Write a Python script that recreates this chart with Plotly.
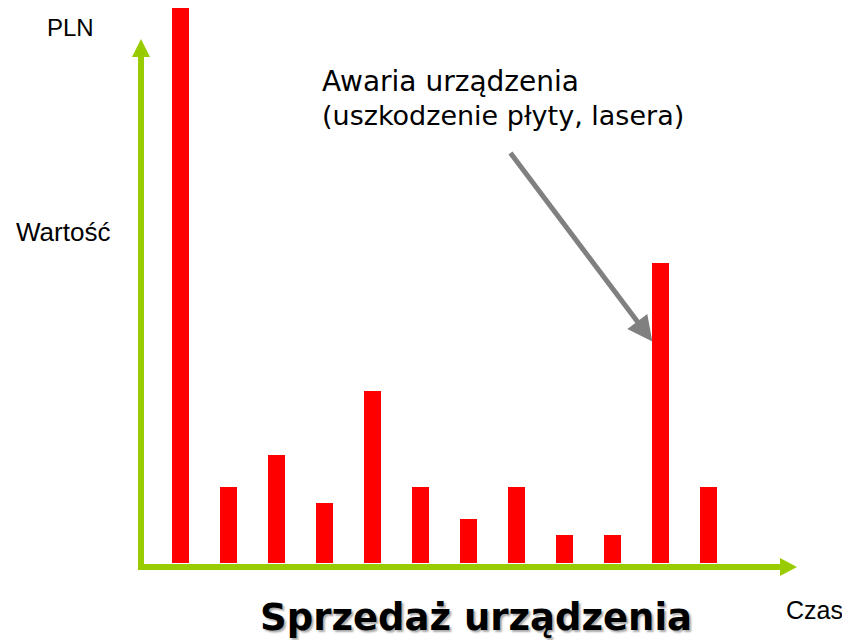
import plotly.graph_objects as go

# ---- data ----
periods = list(range(12))
values = [34.75, 4.75, 6.75, 3.75, 10.75, 4.75, 2.75, 4.75, 1.75, 1.75, 18.75, 4.75]
y_label = "Wartość"
unit_label = "PLN"
x_label = "Czas"
title_text = "Sprzedaż urządzenia"
note_line1 = "Awaria urządzenia"
note_line2 = "(uszkodzenie płyty, lasera)"
failure_index = 10

# page body has an 8px margin, so the figure starts at (8, 8)
OFF = 8
W, H = 850 - OFF, 640 - OFF
GREEN = "#99CC00"

def px(x):
    return (x - OFF) / W

def py(y):
    return 1 - (y - OFF) / H

fig = go.Figure()
fig.add_trace(go.Bar(x=periods, y=values, width=0.354,
                     marker=dict(color="#FF0000", line=dict(width=0)),
                     hoverinfo="x+y"))

shapes = [
    # vertical axis
    dict(type="line", xref="paper", yref="paper", x0=px(141), x1=px(141),
         y0=py(570), y1=py(55), line=dict(color=GREEN, width=6)),
    dict(type="path", xref="paper", yref="paper",
         path=f"M {px(132)} {py(57)} L {px(150)} {py(57)} L {px(141)} {py(39)} Z",
         fillcolor=GREEN, line=dict(width=0)),
    # horizontal axis
    dict(type="line", xref="paper", yref="paper", x0=px(138), x1=px(782),
         y0=py(567), y1=py(567), line=dict(color=GREEN, width=6)),
    dict(type="path", xref="paper", yref="paper",
         path=f"M {px(780)} {py(558)} L {px(780)} {py(576)} L {px(797)} {py(567)} Z",
         fillcolor=GREEN, line=dict(width=0)),
]

annotations = [
    dict(text=unit_label, xref="paper", yref="paper", x=px(45), y=py(28),
         xanchor="left", yanchor="middle", showarrow=False,
         font=dict(family="Liberation Sans, Arial", size=24, color="black")),
    dict(text=y_label, xref="paper", yref="paper", x=px(14), y=py(232),
         xanchor="left", yanchor="middle", showarrow=False,
         font=dict(family="Liberation Sans, Arial", size=26, color="black")),
    dict(text=x_label, xref="paper", yref="paper", x=px(845), y=py(610),
         xanchor="right", yanchor="middle", showarrow=False,
         font=dict(family="Liberation Sans, Arial", size=25, color="black")),
    dict(text=title_text, xref="paper", yref="paper", x=px(476), y=py(617),
         xanchor="center", yanchor="middle", showarrow=False,
         font=dict(family="DejaVu Sans, Verdana", size=37, color="black",
                   weight="bold", shadow="2px 2px 2px #aaaaaa")),
    dict(text=note_line1, xref="paper", yref="paper", x=px(320), y=py(82),
         xanchor="left", yanchor="middle", showarrow=False,
         font=dict(family="DejaVu Sans, Verdana", size=28, color="black")),
    dict(text=note_line2, xref="paper", yref="paper", x=px(320), y=py(115),
         xanchor="left", yanchor="middle", showarrow=False,
         font=dict(family="DejaVu Sans, Verdana", size=27, color="black")),
    # gray pointer arrow to the failure bar
    dict(text="", x=failure_index - 0.17, y=values[failure_index] - 4.9,
         xref="x", yref="y", showarrow=True, axref="pixel", ayref="pixel",
         ax=-143, ay=-190, arrowhead=2, arrowsize=1.0, arrowwidth=5,
         arrowcolor="#808080", standoff=0, startstandoff=0),
]

x0 = -(180.5 - OFF) / 48
y0 = -(640 - 563) / 16
fig.update_layout(
    width=W, height=H,
    margin=dict(l=0, r=0, t=0, b=0),
    paper_bgcolor="white", plot_bgcolor="white",
    showlegend=False,
    xaxis=dict(range=[x0, x0 + W / 48], visible=False, fixedrange=True),
    yaxis=dict(range=[y0, y0 + H / 16], visible=False, fixedrange=True),
    shapes=shapes,
    annotations=annotations,
)

fig.write_html("out.html")
